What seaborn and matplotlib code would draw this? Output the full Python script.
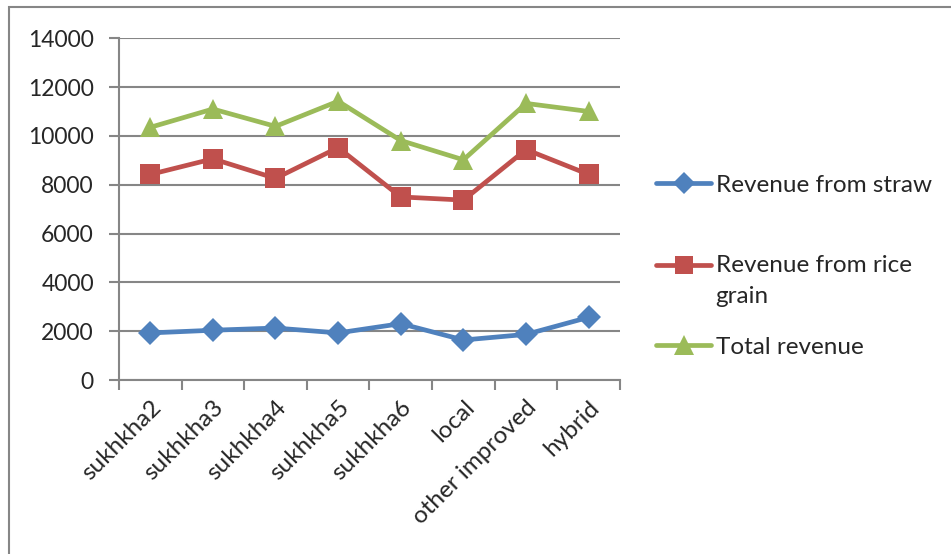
import matplotlib
matplotlib.use("Agg")
import matplotlib.pyplot as plt
import seaborn as sns
import pandas as pd
import numpy as np
from matplotlib.lines import Line2D
from matplotlib.patches import Rectangle
from matplotlib.legend_handler import HandlerLine2D

categories = ["sukhkha2", "sukhkha3", "sukhkha4", "sukhkha5", "sukhkha6",
              "local", "other improved", "hybrid"]
straw = [1930, 2040, 2130, 1930, 2310, 1640, 1870, 2570]
rice = [8420, 9060, 8260, 9520, 7500, 7370, 9440, 8420]
total = [10350, 11100, 10390, 11420, 9810, 9020, 11330, 11000]
series_names = ["Revenue from straw", "Revenue from rice grain", "Total revenue"]
yticks = [0, 2000, 4000, 6000, 8000, 10000, 12000, 14000]

colors = ["#4F81BD", "#C0504D", "#9BBB59"]
markers = ["D", "s", "^"]
msizes = [12, 14, 15]

df = pd.DataFrame({
    "cat": categories * 3,
    "x": list(range(len(categories))) * 3,
    "value": straw + rice + total,
    "series": [series_names[0]] * 8 + [series_names[1]] * 8 + [series_names[2]] * 8,
})

sns.set_style("white")
plt.rcParams["font.family"] = ["Lato", "DejaVu Sans"]

fig = plt.figure(figsize=(9.51, 5.54), dpi=100)
ax = fig.add_axes([0.125, 0.314, 0.527, 0.617])

for i, name in enumerate(series_names):
    sub = df[df["series"] == name]
    sns.lineplot(data=sub, x="x", y="value", ax=ax, color=colors[i],
                 marker=markers[i], markersize=msizes[i], linewidth=3.4,
                 markeredgewidth=0, legend=False)

gray = "#868686"
ax.set_xlim(-0.5, len(categories) - 0.5)
ax.set_ylim(0, 14000)
ax.set_yticks(yticks)
ax.set_yticklabels([str(v) for v in yticks], fontsize=16.5)
ax.yaxis.grid(True, color=gray, linewidth=1.5)
ax.set_axisbelow(True)
ax.set_xticks(np.arange(-0.5, len(categories) + 0.5, 1.0))
ax.set_xticklabels([])
ax.set_xticks(np.arange(len(categories)), minor=True)
ax.set_xticklabels(categories, minor=True, rotation=45, ha="right",
                   rotation_mode="anchor", fontsize=17.5)
ax.tick_params(axis="x", which="major", length=7, width=1.5, color=gray,
               direction="out", bottom=True)
ax.tick_params(axis="x", which="minor", length=0, pad=12)
ax.tick_params(axis="y", length=7, width=1.5, color=gray, direction="out",
               left=True, pad=11)
for s in ["top", "right"]:
    ax.spines[s].set_visible(False)
for s in ["left", "bottom"]:
    ax.spines[s].set_color(gray)
    ax.spines[s].set_linewidth(1.5)
ax.set_xlabel("")
ax.set_ylabel("")


class TopLineHandler(HandlerLine2D):
    def __init__(self, offset, **kw):
        super().__init__(**kw)
        self.offset = offset

    def create_artists(self, legend, orig_handle, xdescent, ydescent,
                       width, height, fontsize, trans):
        arts = super().create_artists(legend, orig_handle, xdescent, ydescent,
                                      width, height, fontsize, trans)
        for a in arts:
            a.set_ydata(np.asarray(a.get_ydata()) + self.offset)
        return arts


legend_labels = ["Revenue from straw", "Revenue from rice\ngrain", "Total revenue"]
legend_y = [0.666, 0.493, 0.373]
for i in range(3):
    h = Line2D([], [], color=colors[i], marker=markers[i], markersize=msizes[i] - 1,
               linewidth=3.4, markeredgewidth=0)
    hmap = {h: TopLineHandler(11.5)} if i == 1 else None
    leg = fig.legend([h], [legend_labels[i]], loc="center left",
                     bbox_to_anchor=(0.690, legend_y[i]), frameon=False,
                     fontsize=17.5, handlelength=2.25, handletextpad=0.2,
                     borderaxespad=0, borderpad=0, handler_map=hmap)
    for t in leg.get_texts():
        t.set_linespacing(1.55)

fig.patches.append(Rectangle((9 / 951, -0.05), 1.2, 1 - 7 / 554 + 0.05,
                             transform=fig.transFigure, fill=False,
                             edgecolor=gray, linewidth=1.5))

fig.savefig("out.png", dpi=100)
